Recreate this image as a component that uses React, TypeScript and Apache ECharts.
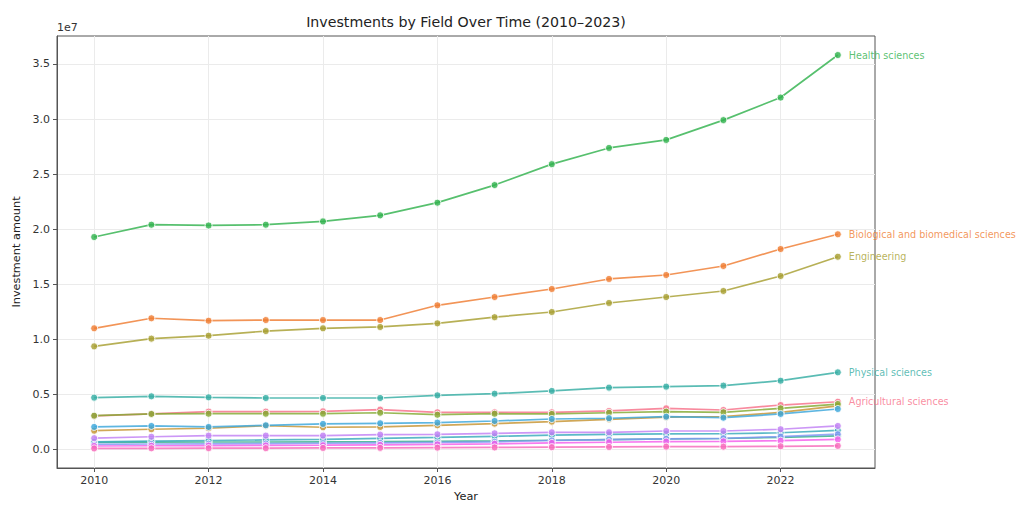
import React, { useEffect, useRef } from "react";
import * as echarts from "echarts";

const years = [2010, 2011, 2012, 2013, 2014, 2015, 2016, 2017, 2018, 2019, 2020, 2021, 2022, 2023];

const fieldNames = [
  "Agricultural sciences",
  "Biological and biomedical sciences",
  "Computer and information sciences",
  "Engineering",
  "Geosciences, atmospheric, and ocean sciences",
  "Health sciences",
  "Mathematics and statistics",
  "Physical sciences",
  "Psychology",
  "Social sciences",
  "Natural resources and conservation",
  "Non-S&E fields",
  "Sciences, nec",
  "Other life sciences",
];

const agricultural = [0.303e7, 0.322e7, 0.342e7, 0.342e7, 0.345e7, 0.36e7, 0.336e7, 0.336e7, 0.336e7, 0.348e7, 0.372e7, 0.357e7, 0.402e7, 0.432e7];
const biological = [1.099e7, 1.19e7, 1.168e7, 1.174e7, 1.174e7, 1.174e7, 1.308e7, 1.383e7, 1.456e7, 1.547e7, 1.583e7, 1.665e7, 1.819e7, 1.953e7];
const computer = [0.169e7, 0.182e7, 0.191e7, 0.214e7, 0.2e7, 0.203e7, 0.218e7, 0.233e7, 0.251e7, 0.272e7, 0.292e7, 0.298e7, 0.335e7, 0.395e7];
const engineering = [0.935e7, 1.005e7, 1.032e7, 1.074e7, 1.099e7, 1.111e7, 1.144e7, 1.2e7, 1.247e7, 1.329e7, 1.383e7, 1.438e7, 1.574e7, 1.749e7];
const geosciences = [0.305e7, 0.321e7, 0.323e7, 0.323e7, 0.323e7, 0.332e7, 0.314e7, 0.323e7, 0.321e7, 0.332e7, 0.342e7, 0.336e7, 0.372e7, 0.411e7];
const health = [1.928e7, 2.04e7, 2.033e7, 2.04e7, 2.07e7, 2.125e7, 2.24e7, 2.4e7, 2.59e7, 2.737e7, 2.81e7, 2.99e7, 3.195e7, 3.581e7];
const mathematics = [0.062e7, 0.065e7, 0.066e7, 0.066e7, 0.067e7, 0.069e7, 0.072e7, 0.076e7, 0.082e7, 0.088e7, 0.094e7, 0.098e7, 0.108e7, 0.121e7];
const physical = [0.469e7, 0.481e7, 0.472e7, 0.466e7, 0.466e7, 0.466e7, 0.49e7, 0.505e7, 0.53e7, 0.56e7, 0.569e7, 0.578e7, 0.623e7, 0.699e7];
const psychology = [0.068e7, 0.075e7, 0.08e7, 0.085e7, 0.09e7, 0.1e7, 0.108e7, 0.118e7, 0.128e7, 0.135e7, 0.14e7, 0.141e7, 0.15e7, 0.172e7];
const social = [0.203e7, 0.212e7, 0.203e7, 0.218e7, 0.23e7, 0.236e7, 0.242e7, 0.257e7, 0.275e7, 0.282e7, 0.296e7, 0.287e7, 0.321e7, 0.366e7];
const naturalResources = [0.045e7, 0.048e7, 0.05e7, 0.052e7, 0.055e7, 0.058e7, 0.062e7, 0.068e7, 0.08e7, 0.088e7, 0.095e7, 0.1e7, 0.115e7, 0.137e7];
const nonSE = [0.101e7, 0.114e7, 0.124e7, 0.124e7, 0.124e7, 0.133e7, 0.136e7, 0.145e7, 0.154e7, 0.154e7, 0.166e7, 0.166e7, 0.182e7, 0.212e7];
const sciencesNec = [0.03e7, 0.032e7, 0.034e7, 0.035e7, 0.037e7, 0.04e7, 0.045e7, 0.05e7, 0.058e7, 0.064e7, 0.07e7, 0.072e7, 0.078e7, 0.09e7];
const otherLife = [0.008e7, 0.009e7, 0.01e7, 0.01e7, 0.012e7, 0.013e7, 0.015e7, 0.017e7, 0.019e7, 0.021e7, 0.024e7, 0.024e7, 0.027e7, 0.031e7];

const seriesValues = [
  agricultural, biological, computer, engineering, geosciences, health, mathematics,
  physical, psychology, social, naturalResources, nonSE, sciencesNec, otherLife,
];

const labeledFields = [
  "Health sciences",
  "Biological and biomedical sciences",
  "Engineering",
  "Physical sciences",
  "Agricultural sciences",
];

const xTickValues = [2010, 2012, 2014, 2016, 2018, 2020, 2022];
const yTickValues = [0, 0.5e7, 1e7, 1.5e7, 2e7, 2.5e7, 3e7, 3.5e7];

// ---- HUSL (seaborn husl_palette) ----
const M = [
  [3.240454162114103, -1.537138512797715, -0.49853140955601],
  [-0.96926603050518, 1.876010845446694, 0.041556017530349],
  [0.055643430959114, -0.20402591351675, 1.057225188223179],
];
const refU = 0.19784;
const refV = 0.46834;
function maxChroma(L: number, H: number) {
  const hrad = (H * Math.PI) / 180;
  const sinH = Math.sin(hrad);
  const cosH = Math.cos(hrad);
  const sub1 = Math.pow(L + 16, 3) / 1560896;
  const sub2 = sub1 > 0.008856 ? sub1 : L / 903.3;
  let result = Infinity;
  for (const row of M) {
    const [m1, m2, m3] = row;
    const top = (0.99915 * m1 + 1.05122 * m2 + 1.1446 * m3) * sub2;
    const rbottom = 0.8633 * m3 - 0.17266 * m2;
    const lbottom = 0.12949 * m3 - 0.38848 * m1;
    const bottom = (rbottom * sinH + lbottom * cosH) * sub2;
    for (const t of [0, 1]) {
      const C = (L * (top - 1.05122 * t)) / (bottom + 0.17266 * sinH * t);
      if (C > 0 && C < result) result = C;
    }
  }
  return result;
}
function fInv(t: number) {
  const t3 = t * t * t;
  return t3 > 0.008856 ? t3 : (116 * t - 16) / 903.3;
}
function fromLinear(c: number) {
  return c <= 0.0031308 ? 12.92 * c : 1.055 * Math.pow(c, 1 / 2.4) - 0.055;
}
function huslToHex(H: number, S: number, L: number) {
  const C = (maxChroma(L, H) / 100) * S;
  const hrad = (H * Math.PI) / 180;
  const U = Math.cos(hrad) * C;
  const V = Math.sin(hrad) * C;
  const varY = fInv((L + 16) / 116);
  const varU = U / (13 * L) + refU;
  const varV = V / (13 * L) + refV;
  const Y = varY;
  const X = 0 - (9 * Y * varU) / ((varU - 4) * varV - varU * varV);
  const Z = (9 * Y - 15 * varV * Y - varV * X) / (3 * varV);
  const rgb = M.map((r) => fromLinear(r[0] * X + r[1] * Y + r[2] * Z));
  return (
    "#" +
    rgb
      .map((v) => Math.round(Math.min(1, Math.max(0, v)) * 255).toString(16).padStart(2, "0"))
      .join("")
  );
}
function huslPalette(n: number) {
  const out: string[] = [];
  for (let i = 0; i < n; i++) {
    const h = ((i / n + 0.01) % 1) * 359;
    out.push(huslToHex(h, 0.9 * 99, 0.65 * 99));
  }
  return out;
}

const FONT = "DejaVu Sans";
const ALPHA = 0.82;

export default function App() {
  const ref = useRef<HTMLDivElement>(null);
  useEffect(() => {
    if (!ref.current) return;
    const chart = echarts.init(ref.current, undefined, { renderer: "svg" });
    const palette = huslPalette(fieldNames.length);
    const series = fieldNames.map((name, i) => {
      const color = palette[i];
      const labeled = labeledFields.includes(name);
      return {
        type: "line",
        name,
        data: years.map((y, k) => [y, seriesValues[i][k]]),
        symbol: "circle",
        symbolSize: 7,
        showSymbol: true,
        lineStyle: { color, width: 1.7, opacity: ALPHA },
        itemStyle: { color, borderColor: "#ffffff", borderWidth: 1, opacity: ALPHA },
        emphasis: { disabled: true },
        endLabel: labeled
          ? {
              show: true,
              formatter: "{a}",
              color,
              opacity: 0.8,
              fontSize: 9.6,
              fontFamily: FONT,
              distance: 11,
            }
          : { show: false },
        z: 2,
      };
    });
    const option = {
      animation: false,
      grid: {
        left: 57,
        right: 149,
        top: 36,
        bottom: 40,
        show: true,
        borderColor: "#555555",
        borderWidth: 1,
      },
      graphic: [
        {
          type: "text",
          x: 466,
          y: 22,
          style: {
            text: "Investments by Field Over Time (2010–2023)",
            fill: "#222222",
            font: `14.2px "${FONT}"`,
            textAlign: "center",
            textVerticalAlign: "middle",
          },
        },
        {
          type: "text",
          x: 57,
          y: 27,
          style: {
            text: "1e7",
            fill: "#333333",
            font: `11px "${FONT}"`,
            textAlign: "left",
            textVerticalAlign: "middle",
          },
        },
      ],
      xAxis: {
        type: "value",
        min: 2009.35,
        max: 2023.65,
        name: "Year",
        nameLocation: "middle",
        nameGap: 22,
        nameTextStyle: { color: "#222222", fontSize: 11.3, fontFamily: FONT },
        axisLine: { show: true, onZero: false, lineStyle: { color: "#555555", width: 1 } },
        axisTick: { show: true, length: 4, inside: false, lineStyle: { color: "#555555" }, customValues: xTickValues },
        axisLabel: {
          color: "#333333",
          fontSize: 11,
          fontFamily: FONT,
          margin: 7,
          customValues: xTickValues,
          formatter: (v: number) => String(v),
        },
        splitLine: { show: true, lineStyle: { color: "#ebebeb", width: 1 } },
      },
      yAxis: {
        type: "value",
        min: -0.17e7,
        max: 3.754e7,
        name: "Investment amount",
        nameLocation: "middle",
        nameGap: 34,
        nameTextStyle: { color: "#222222", fontSize: 11.3, fontFamily: FONT },
        axisLine: { show: true, onZero: false, lineStyle: { color: "#555555", width: 1 } },
        axisTick: { show: true, length: 4, inside: false, lineStyle: { color: "#555555" }, customValues: yTickValues },
        axisLabel: {
          color: "#333333",
          fontSize: 11,
          fontFamily: FONT,
          margin: 7,
          customValues: yTickValues,
          formatter: (v: number) => (v / 1e7).toFixed(1),
        },
        splitLine: { show: true, lineStyle: { color: "#ebebeb", width: 1 } },
      },
      series,
    };
    chart.setOption(option as any);
    return () => chart.dispose();
  }, []);
  return (
    <div
      ref={ref}
      style={{ position: "fixed", left: 0, top: 0, width: "1024px", height: "508px", background: "#ffffff" }}
    />
  );
}
